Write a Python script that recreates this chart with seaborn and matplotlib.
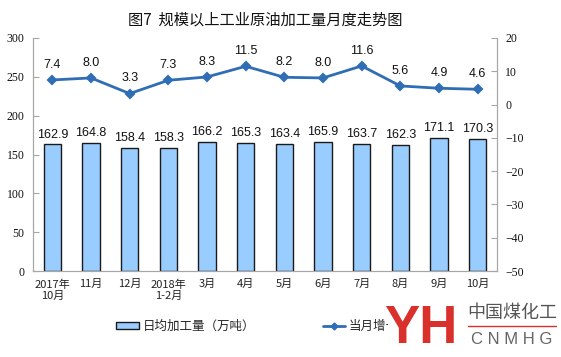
import numpy as np
import matplotlib.pyplot as plt
import seaborn as sns
import pandas as pd
from matplotlib.lines import Line2D
from matplotlib.patches import Patch, Rectangle

months = ['2017年\n10月', '11月', '12月', '2018年\n1-2月', '3月', '4月',
          '5月', '6月', '7月', '8月', '9月', '10月']
daily_output = [162.9, 164.8, 158.4, 158.3, 166.2, 165.3, 163.4, 165.9, 163.7, 162.3, 171.1, 170.3]
growth = [7.4, 8.0, 3.3, 7.3, 8.3, 11.5, 8.2, 8.0, 11.6, 5.6, 4.9, 4.6]

df = pd.DataFrame({'month': months, 'output': daily_output, 'growth': growth})

sns.set_style('white')
plt.rcParams['font.family'] = ['Noto Sans CJK SC', 'DejaVu Sans']

bar_color = '#99CCFF'
line_color = '#2F6DB5'

fig = plt.figure(figsize=(5.61, 3.57), dpi=100)
ax = fig.add_axes([33 / 561, 1 - 271 / 357, 464 / 561, 233 / 357])

sns.barplot(data=df, x='month', y='output', color=bar_color, edgecolor='#1a1a1a',
            linewidth=1.0, width=0.44, saturation=1, ax=ax)
ax.set_ylim(0, 300)
ax.set_yticks(range(0, 301, 50))
ax.set_xlabel('')
ax.set_ylabel('')

for i, v in enumerate(daily_output):
    ax.text(i, v + 5, f'{v:.1f}', ha='center', va='bottom', fontsize=9,
            family='Liberation Sans', color='#111111')

ax2 = ax.twinx()
sns.pointplot(data=df, x='month', y='growth', color=line_color, markers='D',
              markersize=4, linewidth=2, ax=ax2)
ax2.set_ylim(-50, 20)
ax2.set_yticks(range(-50, 21, 10))
ax2.set_ylabel('')
ax2.set_xlabel('')
for i, v in enumerate(growth):
    ax2.text(i, v + 2.8, f'{v:.1f}', ha='center', va='bottom', fontsize=9,
             family='Liberation Sans', color='#111111')

for a in (ax, ax2):
    for s in a.spines.values():
        s.set_color('#A6A6A6')
        s.set_linewidth(0.8)
    a.spines['top'].set_visible(False)
    a.tick_params(axis='y', length=4, width=0.8, color='#A6A6A6', pad=6,
                  labelsize=8.5, labelcolor='#111111')
    for lab in a.get_yticklabels():
        lab.set_family('Liberation Serif')

ax.tick_params(axis='y', direction='in', left=True)
ax2.tick_params(axis='y', direction='in', right=True)
ax.set_xlim(-0.5, len(months) - 0.5)
ax.tick_params(axis='x', length=0, pad=6, labelsize=8, labelcolor='#222222')
for lab in ax.get_xticklabels():
    lab.set_linespacing(1.2)

fig.text(265 / 561, 1 - 20 / 357, '图7  规模以上工业原油加工量月度走势图', ha='center', va='center',
         fontsize=11, color='#111111')

handles = [Patch(facecolor=bar_color, edgecolor='#1a1a1a', linewidth=1.0),
           Line2D([0], [0], color=line_color, lw=2, marker='D', markersize=3.5)]
leg = fig.legend(handles, ['日均加工量（万吨）', '当月增长'], loc='center left',
                 bbox_to_anchor=(105 / 561, 1 - 326 / 357), ncol=2, frameon=False,
                 fontsize=9, handlelength=1.8, handleheight=0.5, columnspacing=5.4,
                 handletextpad=0.3)
leg.set_zorder(3)

# watermark logo
fig.add_artist(Rectangle((388 / 561, 0), 173 / 561, 57 / 357,
                         transform=fig.transFigure, facecolor='white',
                         edgecolor='none', zorder=20))
fig.text(421 / 561, 1 - 329 / 357, 'YH', ha='center', va='center', fontsize=38,
         fontweight='bold', color='#D9302C', family='Liberation Sans', zorder=21)
fig.text(512 / 561, 1 - 313 / 357, '中国煤化工', ha='center', va='center', fontsize=13,
         color='#555555', zorder=21)
fig.add_artist(Line2D([468 / 561, 556 / 561], [1 - 326 / 357, 1 - 326 / 357],
                      transform=fig.transFigure, color='#D9302C', lw=1, zorder=21))
fig.text(512 / 561, 1 - 340 / 357, 'C N M H G', ha='center', va='center', fontsize=12,
         color='#666666', family='Liberation Sans', zorder=21)

fig.savefig('out.png', dpi=100)
